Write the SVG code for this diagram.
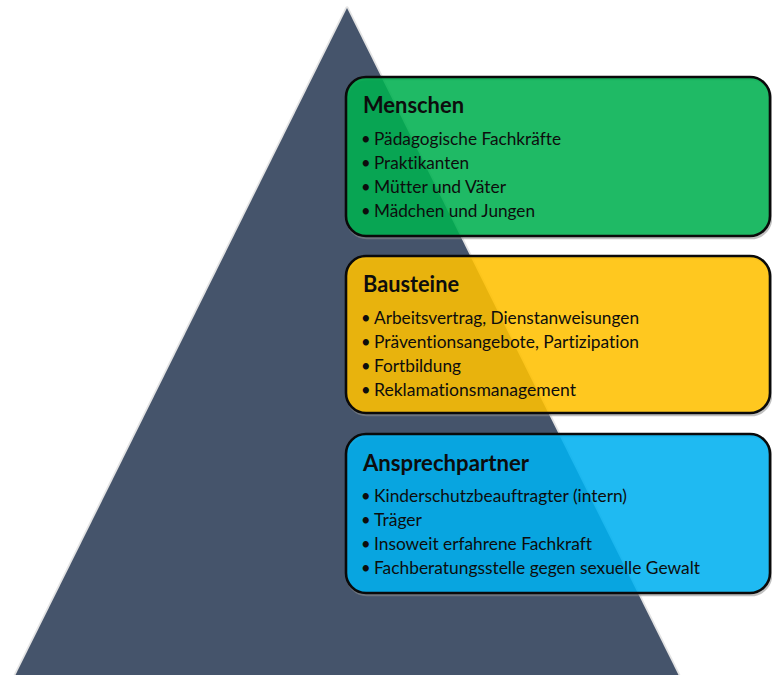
<svg xmlns="http://www.w3.org/2000/svg" width="772" height="675" viewBox="0 0 772 675">
  <style>
    .box { stroke: #0a0a0a; stroke-width: 2.6; fill-opacity: 0.88; }
    .shadow { fill: none; stroke: #8c8c8c; stroke-opacity: 0.55; stroke-width: 2.6; }
    text { font-variant-ligatures: none; }
    .title { font-family: Lato, "Open Sans", sans-serif; font-weight: bold; font-size: 22px; fill: #0d0d0d; }
    .item { font-family: Lato, "Open Sans", sans-serif; font-size: 16.5px; fill: #0d0d0d; }
  </style>
  <rect width="772" height="675" fill="#ffffff"/>

  <!-- pyramid -->
  <g id="pyramid">
    <polygon points="347,8 14,678 680,678" fill="#e4e4e4" stroke="#e4e4e4" stroke-width="3.5" stroke-linejoin="round"/>
    <polygon points="347,8 14,678 680,678" fill="#45546b"/>
  </g>

  <!-- Menschen -->
  <g id="menschen">
    <rect class="shadow" x="347" y="79" width="424" height="159" rx="20"/>
    <rect class="box" x="346" y="77" width="424" height="159" rx="20" fill="#00b050"/>
    <text class="title" x="363" y="113" textLength="101" lengthAdjust="spacingAndGlyphs">Menschen</text>
    <text class="item" x="361" y="145">•</text>
    <text class="item" x="374" y="145" textLength="187" lengthAdjust="spacingAndGlyphs">Pädagogische Fachkräfte</text>
    <text class="item" x="361" y="169">•</text>
    <text class="item" x="374" y="169" textLength="95" lengthAdjust="spacingAndGlyphs">Praktikanten</text>
    <text class="item" x="361" y="193">•</text>
    <text class="item" x="374" y="193" textLength="132" lengthAdjust="spacingAndGlyphs">Mütter und Väter</text>
    <text class="item" x="361" y="217">•</text>
    <text class="item" x="374" y="217" textLength="161" lengthAdjust="spacingAndGlyphs">Mädchen und Jungen</text>
  </g>

  <!-- Bausteine -->
  <g id="bausteine">
    <rect class="shadow" x="347" y="258" width="424" height="157" rx="20"/>
    <rect class="box" x="346" y="256" width="424" height="157" rx="20" fill="#ffc000"/>
    <text class="title" x="363" y="292" textLength="96" lengthAdjust="spacingAndGlyphs">Bausteine</text>
    <text class="item" x="361" y="324">•</text>
    <text class="item" x="374" y="324" textLength="265" lengthAdjust="spacingAndGlyphs">Arbeitsvertrag, Dienstanweisungen</text>
    <text class="item" x="361" y="348">•</text>
    <text class="item" x="374" y="348" textLength="265" lengthAdjust="spacingAndGlyphs">Präventionsangebote, Partizipation</text>
    <text class="item" x="361" y="372">•</text>
    <text class="item" x="374" y="372" textLength="87" lengthAdjust="spacingAndGlyphs">Fortbildung</text>
    <text class="item" x="361" y="396">•</text>
    <text class="item" x="374" y="396" textLength="202" lengthAdjust="spacingAndGlyphs">Reklamationsmanagement</text>
  </g>

  <!-- Ansprechpartner -->
  <g id="ansprechpartner">
    <rect class="shadow" x="347" y="436" width="424" height="159" rx="20"/>
    <rect class="box" x="346" y="434" width="424" height="159" rx="20" fill="#00b0f0"/>
    <text class="title" x="363" y="471" textLength="166" lengthAdjust="spacingAndGlyphs">Ansprechpartner</text>
    <text class="item" x="361" y="502">•</text>
    <text class="item" x="374" y="502" textLength="253" lengthAdjust="spacingAndGlyphs">Kinderschutzbeauftragter (intern)</text>
    <text class="item" x="361" y="526">•</text>
    <text class="item" x="374" y="526" textLength="48" lengthAdjust="spacingAndGlyphs">Träger</text>
    <text class="item" x="361" y="550">•</text>
    <text class="item" x="374" y="550" textLength="218" lengthAdjust="spacingAndGlyphs">Insoweit erfahrene Fachkraft</text>
    <text class="item" x="361" y="574">•</text>
    <text class="item" x="374" y="574" textLength="326" lengthAdjust="spacingAndGlyphs">Fachberatungsstelle gegen sexuelle Gewalt</text>
  </g>
</svg>
